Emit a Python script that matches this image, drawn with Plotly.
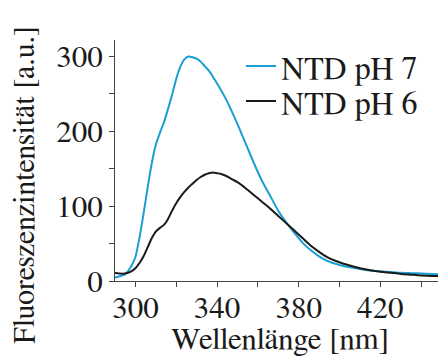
import plotly.graph_objects as go

wl_ph7 = [289, 292, 295, 298, 300, 302, 304, 306, 308, 310, 312, 314, 316, 318, 320,
          322, 324, 326, 328, 330, 332, 334, 336, 338, 340, 342, 344, 346, 348, 350,
          354, 358, 362, 366, 370, 374, 378, 382, 386, 390, 394, 398, 402, 406, 410,
          415, 420, 425, 430, 435, 440, 449]
int_ph7 = [4, 6, 9, 20, 32, 58, 90, 125, 157, 182, 198, 212, 230, 249, 270,
           286, 296, 300, 299, 297, 293, 287, 281, 273, 264, 255, 245, 234, 222, 210,
           184, 158, 134, 114, 94, 78, 64, 51, 41, 33, 27, 23, 20, 18, 16,
           14, 13, 12, 11, 10.5, 10, 9]

wl_ph6 = [289, 292, 295, 298, 300, 302, 304, 306, 308, 310, 312, 314, 316, 318, 320,
          322, 324, 326, 328, 330, 332, 334, 336, 338, 340, 342, 344, 346, 348, 350,
          354, 358, 362, 366, 370, 374, 378, 382, 386, 390, 394, 398, 402, 406, 410,
          415, 420, 425, 430, 435, 440, 449]
int_ph6 = [11, 10, 10, 13, 17, 24, 33, 45, 57, 66, 71, 75, 83, 94, 104,
           112, 119, 125, 130, 135, 139, 142, 144, 145, 144, 143, 141, 138, 135, 132,
           124, 115, 106, 97, 87, 77, 67, 57, 47, 39, 32, 27, 23, 20, 17,
           14.5, 12.5, 11, 9.5, 8.5, 7.5, 6.5]

x_ticks = [300, 340, 380, 420]
y_ticks = [0, 100, 200, 300]

FONT = "FreeSerif, Liberation Serif, Times New Roman, DejaVu Serif, serif"
BLUE = "#1a9fd4"
BLACK = "#1a1a1a"
TXT = "#1a1a1a"

fig = go.Figure()
fig.add_trace(go.Scatter(x=wl_ph7, y=int_ph7, mode="lines", name="NTD pH 7",
                         line=dict(color=BLUE, width=2, shape="spline", smoothing=0.6),
                         legend="legend", showlegend=True))
fig.add_trace(go.Scatter(x=wl_ph6, y=int_ph6, mode="lines", name="NTD pH 6",
                         line=dict(color=BLACK, width=2, shape="spline", smoothing=0.6),
                         legend="legend2", showlegend=True))

axis_common = dict(showline=True, linecolor="#444", linewidth=1, showgrid=False,
                   zeroline=False, ticks="outside", ticklen=5, tickcolor="#444",
                   tickfont=dict(family=FONT, size=31, color=TXT))

fig.update_layout(
    width=438, height=360,
    margin=dict(l=115, r=0, t=40, b=79),
    paper_bgcolor="white", plot_bgcolor="white",
    showlegend=True,
    font=dict(family=FONT, size=30, color=TXT),
    xaxis=dict(range=[290, 448.3], tickvals=x_ticks, ticktext=[str(v) for v in x_ticks],
               ticklabelstandoff=-6,
               minor=dict(dtick=20, tick0=300, ticks="outside", ticklen=5, tickcolor="#444"),
               **axis_common),
    yaxis=dict(range=[0, 322], tickvals=y_ticks, ticktext=[str(v) for v in y_ticks],
               minor=dict(dtick=50, tick0=0, ticks="outside", ticklen=5, tickcolor="#444"),
               **axis_common),
    legend=dict(x=0.39, y=1.005, xanchor="left", yanchor="top", bgcolor="rgba(0,0,0,0)",
                font=dict(family=FONT, size=32, color=TXT), itemwidth=30, borderwidth=0),
    legend2=dict(x=0.39, y=0.86, xanchor="left", yanchor="top", bgcolor="rgba(0,0,0,0)",
                 font=dict(family=FONT, size=32, color=TXT), itemwidth=30, borderwidth=0),
    annotations=[
        dict(text="Wellenlänge [nm]", xref="paper", yref="paper", x=0.511, y=-0.245,
             showarrow=False, font=dict(family=FONT, size=31, color=TXT),
             xanchor="center", yanchor="middle"),
        dict(text="Fluoreszenzintensität [a.u.]", xref="paper", yref="paper",
             x=-0.279, y=0.398, textangle=-90, showarrow=False,
             font=dict(family=FONT, size=30, color=TXT),
             xanchor="center", yanchor="middle"),
    ],
)

fig.write_html("out.html")
